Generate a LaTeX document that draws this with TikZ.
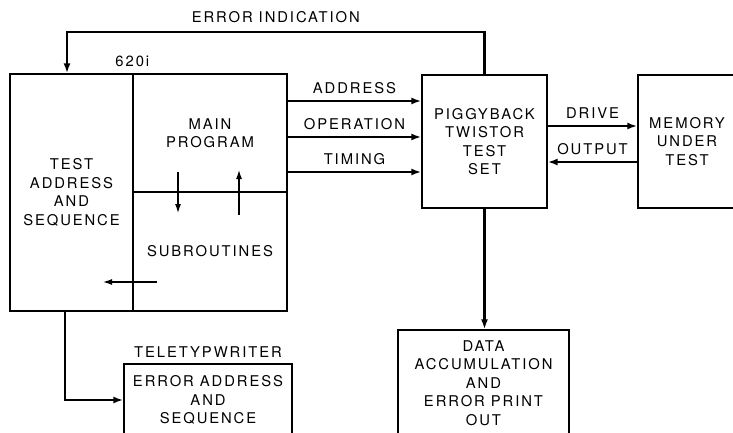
\documentclass[tikz,border=0pt]{standalone}
\usepackage{fontspec}
\setmainfont{TeX Gyre Heros}[LetterSpace=13]
\usetikzlibrary{arrows.meta}

\begin{document}
\begin{tikzpicture}[x=1pt,y=-1pt,
        every node/.style={font=\fontsize{14.8}{18.5}\selectfont},
        box/.style={draw,line width=1.3pt,align=center,inner sep=0pt},
        tag/.style={inner sep=0pt},
        sig/.style={line width=2.2pt,-{Latex[length=10pt,width=7pt]}},
        flow/.style={line width=1.2pt,-{Latex[length=9pt,width=6pt]}}]
                \useasboundingbox (0,0) rectangle (733,433);
                \clip (0,0) rectangle (733,433);

                % computer: sequencer, main program, subroutines
                \node[box,minimum width=123,minimum height=237] (seq) at (71.5,192.5) {TEST\\ADDRESS\\AND\\SEQUENCE};
                \node[box,minimum width=154,minimum height=118] (main) at (210,133) {MAIN\\PROGRAM};
                \node[box,minimum width=154,minimum height=119] (sub) at (210,251.5) {SUBROUTINES};
                \node[tag,above=6pt] (cpu) at (main.north west) {620i};

                \node[box,minimum width=125,minimum height=133] (piggy) at (484.5,141.5) {PIGGYBACK\\TWISTOR\\TEST\\SET};
                \node[box,minimum width=98,minimum height=133] (mem) at (687,141.5) {MEMORY\\UNDER\\TEST};
                \node[box,minimum width=171,minimum height=106] (data) at (483.5,383) {DATA\\ACCUMULATION\\AND\\ERROR PRINT\\OUT};
                \node[box,minimum width=168,minimum height=72] (tty) at (208,400) {ERROR ADDRESS\\AND\\SEQUENCE};
                \node[tag,above=6pt] (ttylabel) at (tty.north) {TELETYPWRITER};

                % arrows inside the computer
                \coordinate (downA) at (178,172);
                \coordinate (downB) at (178,213);
                \coordinate (upA) at (239,215);
                \coordinate (upB) at (239,170);
                \coordinate (backA) at (157,282);
                \coordinate (backB) at (103,282);
                \draw[flow] (downA) -- (downB);
                \draw[flow] (upA) -- (upB);
                \draw[flow] (backA) -- (backB);

                % signals
                \coordinate (errcorner) at (67,32);
                \draw[sig] (piggy.north) |- (errcorner) node[tag,pos=0.75,above=8pt] (err) {ERROR INDICATION} -- (errcorner |- seq.north);
                \draw[sig] (main.east |- 0,101) -- (piggy.west |- 0,101) node[tag,midway,above=6pt] (addr) {ADDRESS};
                \draw[sig] (main.east |- 0,137) -- (piggy.west |- 0,137) node[tag,midway,above=6pt] (oper) {OPERATION};
                \draw[sig] (main.east |- 0,172) -- (piggy.west |- 0,172) node[tag,midway,above=6pt] (timing) {TIMING};
                \draw[sig] (piggy.east |- 0,126) -- (mem.west |- 0,126) node[tag,midway,above=6pt] (drive) {DRIVE};
                \draw[sig] (mem.west |- 0,162) -- (piggy.east |- 0,162) node[tag,midway,above=6pt] (output) {OUTPUT};
                \draw[sig] (piggy.south) -- (piggy.south |- data.north);
                \draw[sig] ([xshift=-6.5pt]seq.south) |- (tty.west);
            \end{tikzpicture}
\end{document}
